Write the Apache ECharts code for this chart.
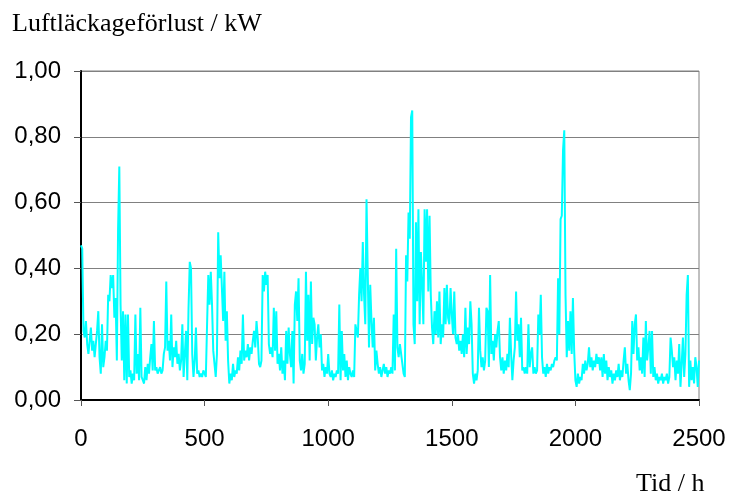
<!DOCTYPE html>
<html>
<head>
<meta charset="utf-8">
<script src="https://cdn.jsdelivr.net/npm/echarts@6/dist/echarts.min.js"></script>
<style>
  html, body { margin: 0; padding: 0; background: #fff; }
  #chart { width: 730px; height: 497px; }
</style>
</head>
<body>
<div id="chart"></div>
<script>
// Air leakage loss, sampled every 5 hours from 0 h to 2500 h
const stepHours = 5;
const lossKW = [
  // 0 - 95 h
  0.47, 0.46, 0.21, 0.19, 0.24, 0.17, 0.14, 0.18, 0.22, 0.15, 0.18, 0.13, 0.17, 0.21, 0.27, 0.13, 0.08, 0.23, 0.10, 0.13,
  // 100 - 195 h
  0.18, 0.15, 0.32, 0.30, 0.38, 0.34, 0.38, 0.25, 0.31, 0.12, 0.52, 0.71, 0.29, 0.12, 0.27, 0.06, 0.26, 0.05, 0.26, 0.07,
  // 200 - 295 h
  0.09, 0.05, 0.08, 0.06, 0.26, 0.08, 0.14, 0.06, 0.28, 0.07, 0.06, 0.05, 0.10, 0.06, 0.11, 0.08, 0.13, 0.17, 0.09, 0.24,
  // 300 - 395 h
  0.09, 0.10, 0.08, 0.09, 0.10, 0.08, 0.09, 0.14, 0.16, 0.36, 0.15, 0.18, 0.12, 0.26, 0.10, 0.16, 0.13, 0.18, 0.11, 0.14,
  // 400 - 495 h
  0.09, 0.12, 0.23, 0.07, 0.14, 0.21, 0.06, 0.28, 0.42, 0.40, 0.14, 0.07, 0.12, 0.22, 0.08, 0.09, 0.07, 0.08, 0.07, 0.09,
  // 500 - 595 h
  0.08, 0.07, 0.23, 0.38, 0.29, 0.39, 0.29, 0.15, 0.11, 0.07, 0.14, 0.51, 0.37, 0.44, 0.34, 0.24, 0.39, 0.18, 0.27, 0.12,
  // 600 - 695 h
  0.05, 0.08, 0.06, 0.11, 0.07, 0.09, 0.08, 0.13, 0.09, 0.15, 0.11, 0.26, 0.12, 0.15, 0.13, 0.17, 0.12, 0.16, 0.14, 0.18,
  // 700 - 795 h
  0.21, 0.16, 0.24, 0.19, 0.11, 0.10, 0.12, 0.38, 0.33, 0.39, 0.35, 0.38, 0.17, 0.14, 0.16, 0.13, 0.28, 0.15, 0.27, 0.11,
  // 800 - 895 h
  0.14, 0.09, 0.16, 0.08, 0.12, 0.06, 0.21, 0.11, 0.22, 0.14, 0.10, 0.21, 0.05, 0.29, 0.33, 0.24, 0.37, 0.12, 0.09, 0.14,
  // 900 - 995 h
  0.08, 0.11, 0.39, 0.18, 0.32, 0.12, 0.36, 0.17, 0.25, 0.23, 0.12, 0.19, 0.23, 0.16, 0.20, 0.09, 0.11, 0.07, 0.10, 0.08,
  // 1000 - 1095 h
  0.14, 0.08, 0.07, 0.09, 0.06, 0.08, 0.07, 0.09, 0.08, 0.29, 0.06, 0.21, 0.09, 0.14, 0.07, 0.12, 0.06, 0.10, 0.08, 0.07,
  // 1100 - 1195 h
  0.09, 0.07, 0.23, 0.21, 0.19, 0.32, 0.40, 0.30, 0.48, 0.32, 0.23, 0.61, 0.61, 0.16, 0.35, 0.24, 0.16, 0.25, 0.09, 0.15,
  // 1200 - 1295 h
  0.11, 0.08, 0.10, 0.07, 0.09, 0.11, 0.08, 0.10, 0.07, 0.09, 0.08, 0.10, 0.08, 0.26, 0.09, 0.46, 0.16, 0.13, 0.17, 0.14,
  // 1300 - 1395 h
  0.11, 0.08, 0.07, 0.44, 0.36, 0.57, 0.49, 0.86, 0.88, 0.23, 0.17, 0.54, 0.30, 0.58, 0.23, 0.45, 0.35, 0.23, 0.58, 0.42,
  // 1400 - 1495 h
  0.58, 0.33, 0.56, 0.32, 0.22, 0.17, 0.27, 0.20, 0.30, 0.19, 0.33, 0.17, 0.23, 0.19, 0.34, 0.23, 0.35, 0.25, 0.23, 0.34,
  // 1500 - 1595 h
  0.26, 0.20, 0.33, 0.19, 0.17, 0.20, 0.15, 0.18, 0.14, 0.20, 0.13, 0.28, 0.14, 0.22, 0.17, 0.30, 0.23, 0.08, 0.05, 0.08,
  // 1600 - 1695 h
  0.06, 0.09, 0.28, 0.15, 0.10, 0.13, 0.09, 0.12, 0.28, 0.27, 0.10, 0.38, 0.14, 0.18, 0.12, 0.20, 0.16, 0.21, 0.24, 0.13,
  // 1700 - 1795 h
  0.09, 0.13, 0.08, 0.12, 0.09, 0.14, 0.10, 0.25, 0.14, 0.06, 0.12, 0.16, 0.33, 0.18, 0.23, 0.13, 0.25, 0.09, 0.10, 0.08,
  // 1800 - 1895 h
  0.10, 0.08, 0.23, 0.10, 0.14, 0.16, 0.08, 0.10, 0.08, 0.09, 0.26, 0.20, 0.32, 0.13, 0.08, 0.10, 0.07, 0.11, 0.08, 0.10,
  // 1900 - 1995 h
  0.09, 0.11, 0.10, 0.12, 0.13, 0.12, 0.37, 0.20, 0.55, 0.56, 0.76, 0.82, 0.32, 0.13, 0.24, 0.15, 0.27, 0.14, 0.31, 0.15,
  // 2000 - 2095 h
  0.06, 0.04, 0.08, 0.05, 0.07, 0.06, 0.11, 0.08, 0.12, 0.09, 0.11, 0.16, 0.10, 0.13, 0.09, 0.12, 0.10, 0.14, 0.11, 0.13,
  // 2100 - 2195 h
  0.09, 0.13, 0.07, 0.14, 0.08, 0.12, 0.06, 0.10, 0.07, 0.09, 0.05, 0.08, 0.06, 0.09, 0.07, 0.11, 0.06, 0.09, 0.07, 0.12,
  // 2200 - 2295 h
  0.16, 0.08, 0.11, 0.06, 0.03, 0.08, 0.24, 0.14, 0.23, 0.26, 0.12, 0.16, 0.09, 0.13, 0.08, 0.19, 0.07, 0.24, 0.12, 0.16,
  // 2300 - 2395 h
  0.21, 0.08, 0.21, 0.07, 0.10, 0.06, 0.08, 0.05, 0.07, 0.06, 0.08, 0.05, 0.07, 0.06, 0.08, 0.05, 0.07, 0.19, 0.15, 0.10,
  // 2400 - 2500 h
  0.13, 0.06, 0.12, 0.08, 0.17, 0.04, 0.11, 0.19, 0.07, 0.14, 0.32, 0.38, 0.04, 0.12, 0.06, 0.10, 0.05, 0.13, 0.10, 0.04,
  0.12
];

const yTickLabels = ['0,00', '0,20', '0,40', '0,60', '0,80', '1,00'];
const xTickLabels = ['0', '500', '1000', '1500', '2000', '2500'];

const yTitle = 'Luftläckageförlust / kW';
const xTitle = 'Tid / h';

const points = lossKW.map((v, i) => [i * stepHours, v]);

const chart = echarts.init(document.getElementById('chart'), null, { renderer: 'canvas' });

chart.setOption({
  animation: false,
  backgroundColor: '#ffffff',
  grid: {
    left: 81, right: 31, top: 71, bottom: 97,
    show: true,
    borderColor: '#808080',
    borderWidth: 1,
    backgroundColor: 'transparent'
  },
  graphic: [
    {
      type: 'text', left: 12, top: 11,
      style: { text: yTitle, font: '26px "Liberation Serif", "Times New Roman", serif', fill: '#000' }
    },
    {
      type: 'text', left: 636, top: 471,
      style: { text: xTitle, font: '26px "Liberation Serif", "Times New Roman", serif', fill: '#000' }
    }
  ],
  xAxis: {
    type: 'value',
    min: 0, max: 2500, interval: 500,
    axisLine: { show: true, onZero: false, lineStyle: { color: '#000', width: 2 } },
    axisTick: { show: true, inside: false, length: 6, lineStyle: { color: '#555', width: 1 } },
    axisLabel: {
      margin: 27,
      color: '#000',
      fontSize: 24,
      fontFamily: '"Liberation Sans", Arial, sans-serif',
      formatter: (v) => xTickLabels[Math.round(v / 500)]
    },
    splitLine: { show: false }
  },
  yAxis: {
    type: 'value',
    min: 0, max: 1, interval: 0.2,
    axisLine: { show: true, lineStyle: { color: '#000', width: 2 } },
    axisTick: { show: true, inside: false, length: 7, lineStyle: { color: '#555', width: 1 } },
    axisLabel: {
      margin: 20,
      color: '#000',
      fontSize: 24,
      fontFamily: '"Liberation Sans", Arial, sans-serif',
      formatter: (v) => yTickLabels[Math.round(v / 0.2)]
    },
    splitLine: { show: true, lineStyle: { color: '#808080', width: 1 } }
  },
  series: [{
    type: 'line',
    data: points,
    showSymbol: false,
    symbol: 'none',
    lineStyle: { color: '#00ffff', width: 2 },
    itemStyle: { color: '#00ffff' },
    z: 3
  }]
});
</script>
</body>
</html>
